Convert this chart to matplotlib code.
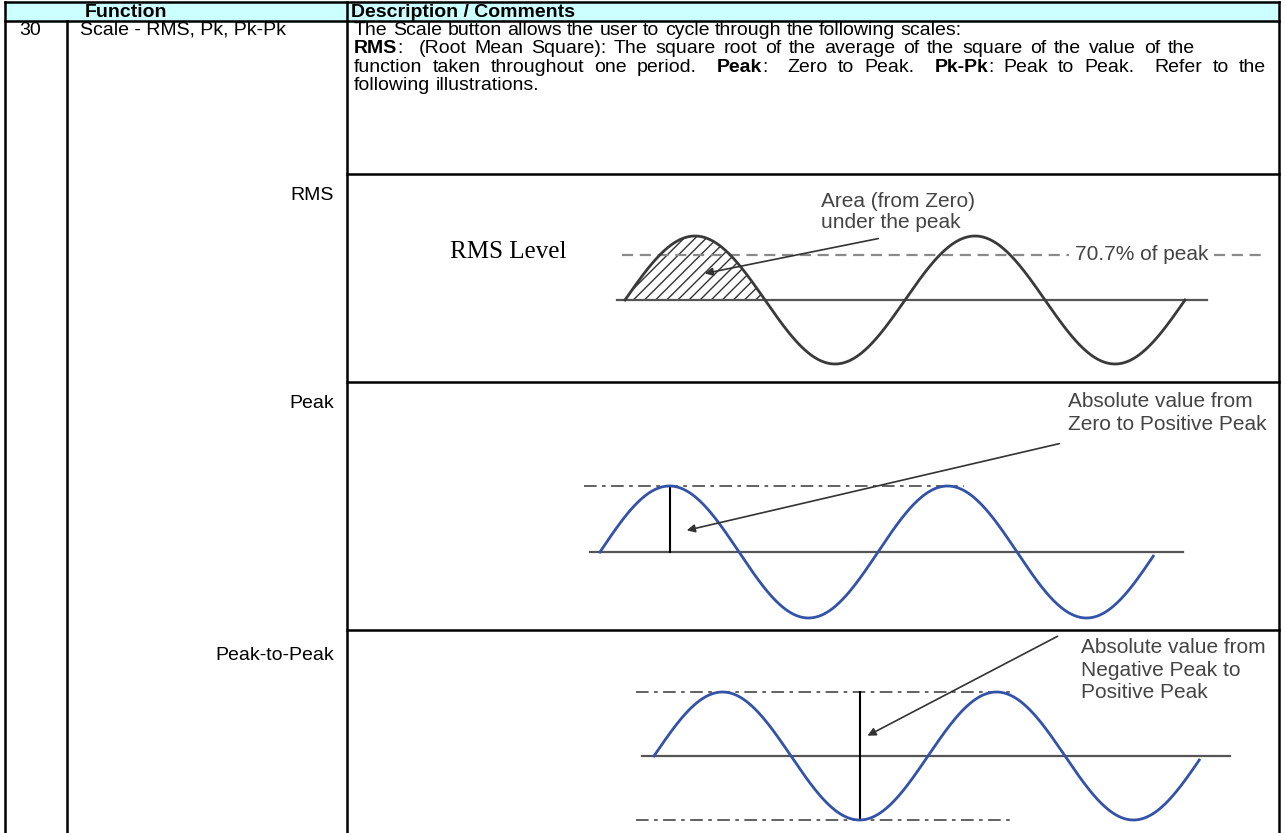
import matplotlib
matplotlib.use("Agg")
import matplotlib.pyplot as plt
import numpy as np

plt.rcParams['font.family'] = ['Liberation Sans', 'DejaVu Sans']
plt.rcParams['hatch.linewidth'] = 1.0

# table text
header = ["Function", "Description / Comments"]
item_no = "30"
item_name = "Scale - RMS, Pk, Pk-Pk"
row_labels = ["RMS", "Peak", "Peak-to-Peak"]
desc_lines = [
    [("The Scale button allows the user to cycle through the following scales:", False)],
    [("RMS", True), (":  (Root Mean Square): The square root of the average of the square of the value of the", False)],
    [("function taken throughout one period.  ", False), ("Peak", True), (":  Zero to Peak.  ", False),
     ("Pk-Pk", True), (": Peak to Peak.  Refer to the", False)],
    [("following illustrations.", False)],
]
desc_right = [None, 1195, 1266, None]   # lines 2-3 are justified in the source

# sine illustrations: start x, period, cycles, baseline y, amplitude (pixels)
wave_start = [625, 600, 654]
wave_period = [280, 278, 274]
wave_cycles = [2.0, 1.99, 1.99]
wave_base = [300, 552, 756]
wave_amp = [64, 66, 64]
wave_color = ['#3a3a3a', '#3352a8', '#3352a8']
axis_x = [(617, 1207), (590, 1183), (642, 1230)]

rms_level = 0.707
notes = [["Area (from Zero)", "under the peak"],
         ["Absolute value from", "Zero to Positive Peak"],
         ["Absolute value from", "Negative Peak to", "Positive Peak"]]

BODY = 14
NOTE = 15

W, H = 1285, 833
fig = plt.figure(figsize=(W / 100, H / 100), dpi=100)
ax = fig.add_axes([0, 0, 1, 1])
ax.set_xlim(0, W)
ax.set_ylim(H, 0)
ax.axis('off')
renderer = fig.canvas.get_renderer()

# ---- table grid
lw = 1.8
ax.fill_between([5, 1279], 2, 21, color='#ccffff', zorder=0)
ax.plot([5, 1279], [2, 2], color='k', lw=lw)
ax.plot([5, 1279], [21, 21], color='k', lw=lw)
ax.plot([5, 5], [2, H], color='k', lw=lw)
ax.plot([1279, 1279], [2, H], color='k', lw=lw)
ax.plot([347, 347], [2, H], color='k', lw=lw)
ax.plot([67, 67], [21, H], color='k', lw=lw)
for yy in [174, 382, 630]:
    ax.plot([347, 1279], [yy, yy], color='k', lw=lw)

ax.text(85, 17, header[0], fontsize=14, fontweight='bold', va='baseline')
ax.text(351, 17, header[1], fontsize=14, fontweight='bold', va='baseline')
ax.text(19, 34.5, item_no, fontsize=BODY, va='baseline')
ax.text(80, 34.5, item_name, fontsize=BODY, va='baseline')
for lab, yy in zip(row_labels, [200, 408, 660]):
    ax.text(334, yy, lab, fontsize=BODY, va='baseline', ha='right')


def run_width(s, bold):
    t = ax.text(0, 0, '|' + s + '|', fontsize=BODY, fontweight='bold' if bold else 'normal')
    w1 = t.get_window_extent(renderer).width
    t.set_text('||')
    w2 = t.get_window_extent(renderer).width
    t.remove()
    return w1 - w2


for i, line in enumerate(desc_lines):
    y = 34.5 + i * 18.5
    # split into words so that a justified line can be spread
    words = []
    for s, bold in line:
        for j, wtxt in enumerate(s.split(' ')):
            if j > 0:
                words.append((' ', bold))
            if wtxt:
                words.append((wtxt, bold))
    widths = [run_width(s, b) for s, b in words]
    extra = 0
    n_sp = sum(1 for s, b in words if s == ' ')
    if desc_right[i] is not None and n_sp:
        extra = max(0, desc_right[i] - 354 - sum(widths)) / n_sp
    x = 354
    for (s, bold), wd in zip(words, widths):
        if s != ' ':
            ax.text(x, y, s, fontsize=BODY, fontweight='bold' if bold else 'normal', va='baseline')
            x += wd
        else:
            x += wd + extra

# ---- waves
for k in range(3):
    x = np.linspace(wave_start[k], wave_start[k] + wave_period[k] * wave_cycles[k], 600)
    y = wave_base[k] - wave_amp[k] * np.sin(2 * np.pi * (x - wave_start[k]) / wave_period[k])
    ax.plot(axis_x[k], [wave_base[k]] * 2, color='#555555', lw=1.6, zorder=2)
    ax.plot(x, y, color=wave_color[k], lw=2.0, zorder=3)
    if k == 0:
        half = x <= wave_start[k] + wave_period[k] / 2
        ax.fill_between(x[half], wave_base[k], y[half], facecolor='none',
                        edgecolor='#333333', hatch='///', linewidth=0, zorder=1)


def note(x, y0, lines, dy=22.5):
    for j, s in enumerate(lines):
        ax.text(x, y0 + j * dy, s, fontsize=NOTE, color='#444444', va='baseline')


# RMS panel
lvl = wave_base[0] - rms_level * wave_amp[0]
ax.plot([622, 1069], [lvl, lvl], color='#8a8a8a', lw=1.6, ls=(0, (5, 3)), zorder=1)
ax.plot([1214, 1262], [lvl, lvl], color='#8a8a8a', lw=1.6, ls=(0, (5, 3)), zorder=1)
ax.text(1142, lvl, "70.7% of peak", fontsize=NOTE, color='#444444', va='center', ha='center')
ax.text(450, 252, "RMS Level", fontsize=18, family=['Liberation Serif', 'DejaVu Serif'], va='center')
note(821, 207, notes[0], dy=21)
ax.annotate('', xy=(702, 274), xytext=(881, 238),
            arrowprops=dict(arrowstyle='-|>', color='#333333', lw=1.2, mutation_scale=12))

# Peak panel
pk = wave_base[1] - wave_amp[1]
ax.plot([584, 964], [pk, pk], color='#555555', lw=1.3, ls=(0, (7, 3, 2, 3)))
xp = wave_start[1] + wave_period[1] / 4
ax.plot([xp, xp], [pk, wave_base[1]], color='k', lw=1.5)
note(1068, 407, notes[1])
ax.annotate('', xy=(684, 531), xytext=(1062, 443),
            arrowprops=dict(arrowstyle='-|>', color='#333333', lw=1.2, mutation_scale=12))

# Peak-to-peak panel
top = wave_base[2] - wave_amp[2]
bot = wave_base[2] + wave_amp[2]
ax.plot([636, 1012], [top, top], color='#555555', lw=1.3, ls=(0, (7, 3, 2, 3)))
ax.plot([636, 1012], [bot, bot], color='#555555', lw=1.3, ls=(0, (7, 3, 2, 3)))
xt = wave_start[2] + wave_period[2] * 0.75
ax.plot([xt, xt], [top, bot], color='k', lw=1.5)
note(1081, 653, notes[2], dy=22.5)
ax.annotate('', xy=(865, 737), xytext=(1060, 635),
            arrowprops=dict(arrowstyle='-|>', color='#333333', lw=1.2, mutation_scale=12))

fig.savefig('out.png', dpi=100)
